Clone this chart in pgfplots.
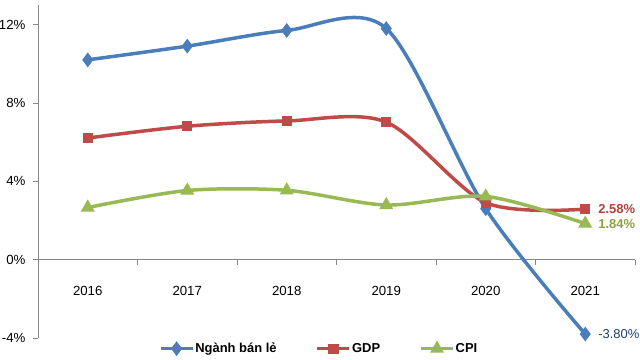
\documentclass[border=0pt]{standalone}
\usepackage{pgfplots}
\pgfplotsset{compat=1.18}
\usepackage{fontspec}
\setmainfont{Liberation Sans}
\definecolor{cblue}{HTML}{4A7EBB}
\definecolor{cred}{HTML}{BE4B48}
\definecolor{cgreen}{HTML}{98B954}
\definecolor{cgrey}{HTML}{868686}
\definecolor{lblue}{HTML}{1F3F6E}
\definecolor{lred}{HTML}{B0403D}
\definecolor{lgreen}{HTML}{8AA23E}
\begin{document}
\fontsize{13}{15}\selectfont
\begin{tikzpicture}
\path[use as bounding box] (0,0) rectangle (640bp,360bp);
\begin{axis}[
  at={(38bp,22bp)}, anchor=south west,
  scale only axis, width=597bp, height=333bp,
  xmin=-0.5, xmax=5.5, ymin=-4, ymax=13,
  clip=false,
  axis x line=middle, axis y line=left,
  axis line style={cgrey, line width=0.8bp, -},
  xtick={0,1,2,3,4,5},
  xticklabels={2016,2017,2018,2019,2020,2021},
  major x tick style={draw=none},
  minor xtick={0.5,1.5,2.5,3.5,4.5,5.5},
  minor x tick style={cgrey, line width=0.8bp},
  minor tick length=5bp,
  tick align=outside,
  ytick={-4,0,4,8,12},
  yticklabel={\pgfmathprintnumber{\tick}\%},
  y tick style={cgrey, line width=0.8bp},
  major tick length=5bp,
  /pgf/number format/assume math mode=true,
  tick label style={font=\fontsize{13.3}{15}\selectfont, text=black},
  xticklabel style={yshift=-17bp},
  yticklabel style={xshift=-3bp},
  legend style={draw=none, fill=none, at={(0.47,-0.005)}, anchor=north,
    font=\fontsize{13}{15}\selectfont\bfseries, legend columns=3,
    /tikz/every even column/.append style={column sep=38bp},
    nodes={inner sep=1bp}},
  legend cell align=left,
  legend image code/.code={\draw[mark repeat=2,mark phase=2,#1] plot coordinates {(0bp,0bp) (16bp,0bp) (32bp,0bp)};},
]
\addplot[cblue, line width=3.5bp, smooth, tension=0.5, mark=diamond*, mark size=4.5bp, mark options={solid}]
  coordinates {(0,10.2) (1,10.9) (2,11.7) (3,11.8) (4,2.6) (5,-3.8)};
\addlegendentry{Ngành bán lẻ}
\addplot[cred, line width=3.5bp, smooth, tension=0.5, mark=square*, mark size=3.4bp]
  coordinates {(0,6.21) (1,6.81) (2,7.08) (3,7.02) (4,2.91) (5,2.58)};
\addlegendentry{GDP}
\addplot[cgreen, line width=3.5bp, smooth, tension=0.5, mark=triangle*, mark size=4.6bp]
  coordinates {(0,2.66) (1,3.53) (2,3.54) (3,2.79) (4,3.23) (5,1.84)};
\addlegendentry{CPI}
\node[anchor=west, text=lred, inner sep=0pt, font=\fontsize{13}{15}\selectfont\bfseries] at (axis cs:5.13,2.58) {2.58\%};
\node[anchor=west, text=lgreen, inner sep=0pt, font=\fontsize{13}{15}\selectfont\bfseries] at (axis cs:5.13,1.84) {1.84\%};
\node[anchor=west, text=lblue, inner sep=0pt, font=\fontsize{13}{15}\selectfont] at (axis cs:5.13,-3.8) {-3.80\%};
\end{axis}
\end{tikzpicture}
\end{document}
